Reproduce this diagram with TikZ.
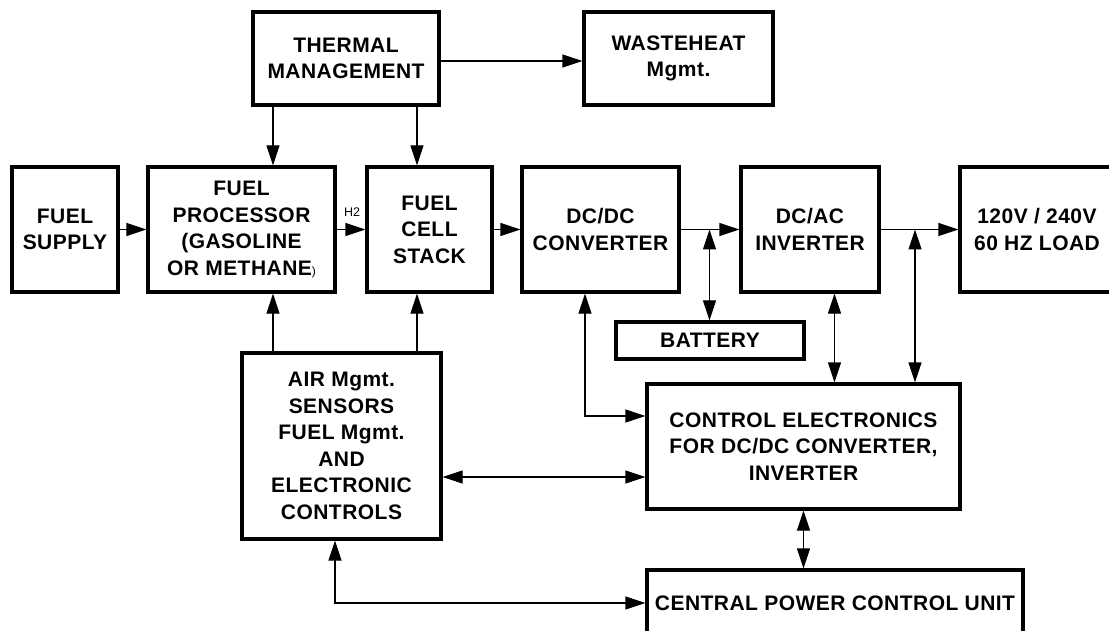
\documentclass[tikz,border=0pt]{standalone}
\usepackage{fontspec}
\setmainfont{Liberation Sans}
\newfontfamily\blkfont[LetterSpace=2.2]{Liberation Sans}
\usetikzlibrary{arrows.meta,calc}
\tikzset{
  blk/.style={draw, line width=3.2pt, inner sep=0pt, align=center,
    font=\blkfont\fontsize{21}{26.5}\selectfont\bfseries},
  conn/.style={line width=1.2pt, -{Triangle[length=20pt,width=13pt]}},
  dconn/.style={line width=1.2pt, {Triangle[length=20pt,width=13pt]}-{Triangle[length=20pt,width=13pt]}},
  lbl/.style={inner sep=0pt, font=\fontsize{12.5}{12.5}\selectfont}
}
\begin{document}
\begin{tikzpicture}[x=1pt,y=-1pt]
\useasboundingbox (0,0) rectangle (1109,631);
\clip (0,0) rectangle (1109,631);

% boxes
\node[blk, minimum width=186, minimum height=93] (tm) at (346,58.5) {THERMAL\\MANAGEMENT};
\node[blk, minimum width=189, minimum height=93] (wh) at (678.5,58.5) {WASTEHEAT\\Mgmt.};
\node[blk, minimum width=106, minimum height=125] (fs) at (65,229.5) {FUEL\\SUPPLY};
\node[blk, minimum width=187, minimum height=125] (fp) at (241.5,229.5) {FUEL\\PROCESSOR\\(GASOLINE\\OR METHANE{\fontsize{12}{12}\selectfont\mdseries)}};
\node[blk, minimum width=125, minimum height=125] (fcs) at (429.5,229.5) {FUEL\\CELL\\STACK};
\node[blk, minimum width=157, minimum height=125] (dcdc) at (600.5,229.5) {DC/DC\\CONVERTER};
\node[blk, minimum width=138, minimum height=125] (dcac) at (810,229.5) {DC/AC\\INVERTER};
\node[blk, minimum width=154, minimum height=125] (load) at (1037,229.5) {120V / 240V\\60 HZ LOAD};
\node[blk, minimum width=188, minimum height=37] (bat) at (710,340.5) {BATTERY};
\node[blk, minimum width=313, minimum height=125] (ce) at (803.5,446.5) {CONTROL ELECTRONICS\\FOR DC/DC CONVERTER,\\INVERTER};
\node[blk, minimum width=199, minimum height=186] (air) at (341.5,446) {AIR Mgmt.\\SENSORS\\FUEL Mgmt.\\AND\\ELECTRONIC\\CONTROLS};
\node[blk, minimum width=376, minimum height=66] (cpcu) at (835,603) {CENTRAL POWER CONTROL UNIT};

\node[lbl] (h2) at (352,212) {H2};

% helper coordinates
\coordinate (xa) at (273,0);
\coordinate (xb) at (417,0);
\coordinate (xc) at (585,0);
\coordinate (xd) at (834.5,0);
\coordinate (xf) at (335,0);
\coordinate (j1) at (709.5,229.5);
\coordinate (j2) at (915,229.5);
\coordinate (ya) at (0,416);
\coordinate (yb) at (0,477);

% main row
\draw[conn] (fs) -- (fp);
\draw[conn] (fp) -- (fcs);
\draw[conn] (fcs) -- (dcdc);
\draw[conn] (dcdc) -- (dcac);
\draw[conn] (dcac) -- (load);
\draw[conn] ([yshift=-2.5pt]tm.east) -- ([yshift=-2.5pt]wh.west);

% thermal management down
\draw[conn] (xa |- tm.south) -- (xa |- fp.north);
\draw[conn] (xb |- tm.south) -- (xb |- fcs.north);

% air management up
\draw[conn] (xa |- air.north) -- (xa |- fp.south);
\draw[conn] (xb |- air.north) -- (xb |- fcs.south);

% battery
\draw[dconn] (j1) -- (j1 |- bat.north);

% control electronics links
\draw[dconn] (xc |- dcdc.south) |- (ya -| ce.west);
\draw[dconn] (xd |- dcac.south) -- (xd |- ce.north);
\draw[dconn] (j2) -- (j2 |- ce.north);
\draw[dconn] (yb -| air.east) -- (yb -| ce.west);
\draw[dconn] (ce.south) -- (ce.south |- cpcu.north);
\draw[dconn] (xf |- air.south) |- (cpcu.west);
\end{tikzpicture}
\end{document}
